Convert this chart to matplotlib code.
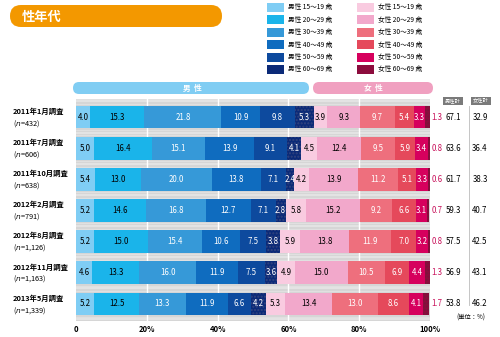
import numpy as np
import matplotlib.pyplot as plt
from matplotlib import transforms
from matplotlib.patches import FancyBboxPatch, Rectangle

plt.rcParams['font.family'] = ['Noto Sans CJK JP', 'DejaVu Sans']

# survey rows
surveys = ['2011年1月調査', '2011年7月調査', '2011年10月調査', '2012年2月調査',
           '2012年8月調査', '2012年11月調査', '2013年5月調査']
sizes = ['432', '606', '638', '791', '1,126', '1,163', '1,339']
age_groups = ['15〜19', '20〜29', '30〜39', '40〜49', '50〜59', '60〜69']

# shares (%) per age group, 15-19 ... 60-69
male = [
    [4.0, 15.3, 21.8, 10.9, 9.8, 5.3],
    [5.0, 16.4, 15.1, 13.9, 9.1, 4.1],
    [5.4, 13.0, 20.0, 13.8, 7.1, 2.4],
    [5.2, 14.6, 16.8, 12.7, 7.1, 2.8],
    [5.2, 15.0, 15.4, 10.6, 7.5, 3.8],
    [4.6, 13.3, 16.0, 11.9, 7.5, 3.6],
    [5.2, 12.5, 13.3, 11.9, 6.6, 4.2],
]
female = [
    [3.9, 9.3, 9.7, 5.4, 3.3, 1.3],
    [4.5, 12.4, 9.5, 5.9, 3.4, 0.8],
    [4.2, 13.9, 11.2, 5.1, 3.3, 0.6],
    [5.8, 15.2, 9.2, 6.6, 3.1, 0.7],
    [5.9, 13.8, 11.9, 7.0, 3.2, 0.8],
    [4.9, 15.0, 10.5, 6.9, 4.4, 1.3],
    [5.3, 13.4, 13.0, 8.6, 4.1, 1.7],
]
male_total = [67.1, 63.6, 61.7, 59.3, 57.5, 56.9, 53.8]
female_total = [32.9, 36.4, 38.3, 40.7, 42.5, 43.1, 46.2]

ticks = [0, 20, 40, 60, 80, 100]
tick_labels = ['0', '20%', '40%', '60%', '80%', '100%']

male_colors = ['#7fcdf4', '#1ab4ea', '#3699d8', '#0f6cbf', '#0d4a9e', '#0b2a78']
female_colors = ['#f9cbe0', '#f2a8cb', '#ee6f7d', '#e5495b', '#d6005d', '#8c0c3d']
male_txt = ['black', 'black', 'white', 'white', 'white', 'white']
female_txt = ['black', 'black', 'white', 'white', 'white', '#c8105a']

W, H = 500, 337
fig = plt.figure(figsize=(W / 100, H / 100), dpi=100)

# decoration layer in pixel coords
deco = fig.add_axes([0, 0, 1, 1])
deco.set_xlim(0, W)
deco.set_ylim(H, 0)
deco.axis('off')

deco.add_patch(FancyBboxPatch((10, 5), 212, 22, boxstyle='round,pad=0,rounding_size=11',
                              fc='#f39800', ec='none'))
deco.text(22, 16.5, '性年代', color='white', fontsize=9.5, fontweight='bold',
          va='center', ha='left')

deco.add_patch(FancyBboxPatch((73, 82), 236, 12, boxstyle='round,pad=0,rounding_size=6',
                              fc='#80cdf3', ec='none'))
deco.text(192, 88, '男  性', color='white', fontsize=5.5, fontweight='bold',
          ha='center', va='center')
deco.add_patch(FancyBboxPatch((313, 82), 120, 12, boxstyle='round,pad=0,rounding_size=6',
                              fc='#f0a0c0', ec='none'))
deco.text(373, 88, '女  性', color='white', fontsize=5.5, fontweight='bold',
          ha='center', va='center')

# legend
for i, g in enumerate(age_groups):
    yy = 7.5 + 12.4 * i
    deco.add_patch(Rectangle((267, yy - 4.5), 17, 9, fc=male_colors[i], ec='none'))
    deco.text(288, yy, '男性 ' + g + ' 歳', fontsize=4.8, va='center', ha='left')
    deco.add_patch(Rectangle((357, yy - 4.5), 17, 9, fc=female_colors[i], ec='none'))
    deco.text(378, yy, '女性 ' + g + ' 歳', fontsize=4.8, va='center', ha='left')

# total headers
for x0, lab in [(443, '男性計'), (471, '女性計')]:
    deco.add_patch(Rectangle((x0, 96.5), 20, 8.5, fc='#7a7a7a', ec='none'))
    deco.text(x0 + 10, 100.8, lab, color='white', fontsize=3.8, ha='center', va='center')
deco.plot([469, 469], [106, 305], color='#bbbbbb', lw=0.6)
deco.text(471, 318, '(単位：%)', fontsize=4.5, ha='center', va='center')

# main bar axes
ax = fig.add_axes([76 / W, 1 - 321 / H, 354 / W, 222 / H])
ax.set_facecolor('#d6d6d6')
n = len(surveys)
y = np.arange(n)
ax.set_xlim(0, 100)
ax.set_ylim(n - 0.45, -0.58)
bh = 0.73

for k in range(-1, n):
    ax.axhline(k + 0.5, color='#e6e6e6', lw=1.2, zorder=0)
    ax.axhline(k + 0.5 + 0.09, color='#e2e2e2', lw=0.6, zorder=0)
    ax.axhline(k + 0.5 - 0.09, color='#e2e2e2', lw=0.6, zorder=0)
for t in ticks[1:-1]:
    ax.axvline(t, color='white', lw=1.0, zorder=1)

groups = ([np.array(male)[:, j] for j in range(6)] +
          [np.array(female)[:, j] for j in range(6)])
colors = male_colors + female_colors
txt_colors = male_txt + female_txt
left = np.zeros(n)
for j, vals in enumerate(groups):
    hatch = '.....' if j in (5, 11) else None
    ax.barh(y, vals, left=left, height=bh, color=colors[j], lw=0, zorder=2,
            hatch=hatch, edgecolor=colors[j] if hatch is None else '#34447e' if j == 5 else '#74183c')
    for i in range(n):
        if j == 11:
            ax.text(100.4, y[i], f'{vals[i]:.1f}', color=txt_colors[j], fontsize=5.7,
                    ha='left', va='center', zorder=3)
        else:
            ax.text(left[i] + vals[i] / 2, y[i], f'{vals[i]:.1f}', color=txt_colors[j],
                    fontsize=5.7, ha='center', va='center', zorder=3)
    left = left + vals

ax.set_xticks(ticks)
ax.set_xticklabels(tick_labels, fontsize=5.5, fontweight='bold')
ax.tick_params(axis='x', length=0, pad=3)
ax.set_yticks([])
for s in ax.spines.values():
    s.set_visible(False)

# row labels and totals
tr = transforms.blended_transform_factory(fig.transFigure, ax.transData)
for i in range(n):
    fig.text(13 / W, y[i] - 0.19, surveys[i], transform=tr, fontsize=5.3,
             fontweight='bold', ha='left', va='center')
    fig.text(13 / W, y[i] + 0.2, '($\\mathit{n}$=' + sizes[i] + ')', transform=tr,
             fontsize=5.3, ha='left', va='center')
    fig.text(453 / W, y[i], f'{male_total[i]:.1f}', transform=tr, fontsize=5.7,
             ha='center', va='center')
    fig.text(480 / W, y[i], f'{female_total[i]:.1f}', transform=tr, fontsize=5.7,
             ha='center', va='center')

fig.savefig('out.png', dpi=100)
